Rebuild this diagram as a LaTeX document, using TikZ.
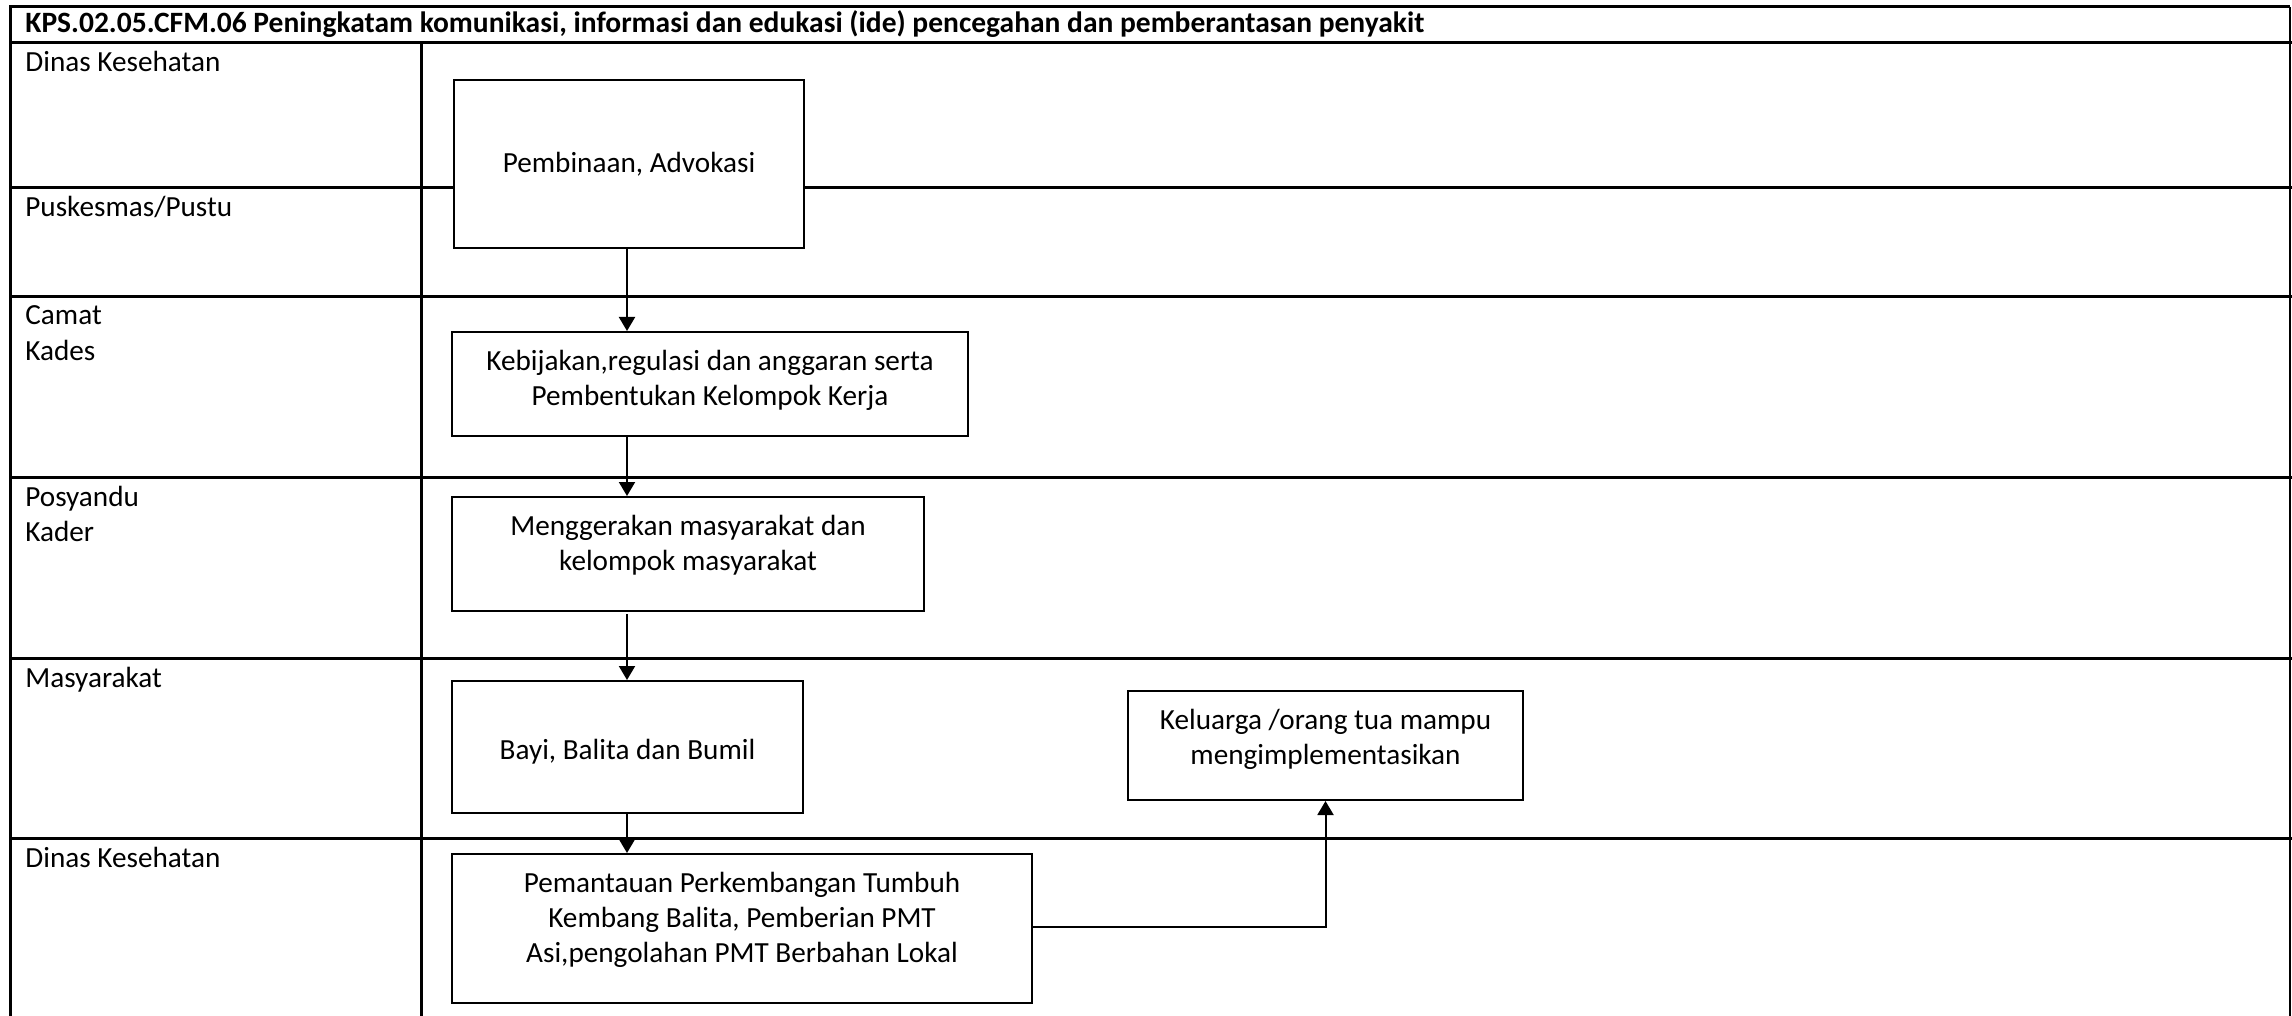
\documentclass[tikz,border=0pt]{standalone}
\usepackage{fontspec}
\setmainfont{Carlito}
\usetikzlibrary{arrows.meta,calc}
\tikzset{
  lane/.style={line width=1.5pt, line cap=rect},
  frameline/.style={line width=1.5pt},
  box/.style={draw, fill=white, line width=1pt, inner sep=0pt},
  txt/.style={align=center, inner sep=0pt},
  lbl/.style={anchor=base west, inner sep=0pt},
  flow/.style={line width=1pt, -{Triangle[width=8pt, length=7pt]}},
}
\begin{document}
\begin{tikzpicture}[x=0.5pt, y=-0.5pt, font=\fontsize{14.6}{17.5}\selectfont]
\useasboundingbox (0,0) rectangle (2292,1016);
% frame and lanes
\draw[frameline] (10,1016) -- (10,7) -- (2290,7);
\draw[line width=0.9pt] (2290,7) -- (2290,1016);
\draw[lane] (10,43) -- (2290,43);
\foreach \yy in {188,297,477,658,838} \draw[lane] (10,\yy) -- (2290,\yy);
\draw[lane] (421,43) -- (421,1016);
% header
\node[lbl, font=\fontsize{14.75}{17.5}\selectfont\bfseries] (title) at (25,33) {KPS.02.05.CFM.06 Peningkatam komunikasi, informasi dan edukasi (ide) pencegahan dan pemberantasan penyakit};
% lane labels
\node[lbl] (l1) at (25,72) {Dinas Kesehatan};
\node[lbl] (l2) at (25,217) {Puskesmas/Pustu};
\node[lbl] (l3) at (25,325) {Camat};
\node[lbl] (l3b) at (25,360) {Kades};
\node[lbl] (l4) at (25,506) {Posyandu};
\node[lbl] (l4b) at (25,541) {Kader};
\node[lbl] (l5) at (25,687) {Masyarakat};
\node[lbl] (l6) at (25,867) {Dinas Kesehatan};
% boxes
\node[box, minimum width=175pt, minimum height=84pt] (pemb) at (629,164) {};
\node[txt, anchor=base] (pembt) at (629,173) {Pembinaan, Advokasi};
\node[box, minimum width=258pt, minimum height=52pt] (keb) at (710,384) {};
\node[txt] (kebt) at (710,380) {Kebijakan,regulasi dan anggaran serta\\Pembentukan Kelompok Kerja};
\node[box, minimum width=236pt, minimum height=57pt] (gerak) at (688,554) {};
\node[txt] (gerakt) at (688,545.5) {Menggerakan masyarakat dan\\kelompok masyarakat};
\node[box, minimum width=175.5pt, minimum height=66pt] (bayi) at (627.5,747) {};
\node[txt, anchor=base] (bayit) at (627.5,759) {Bayi, Balita dan Bumil};
\node[box, minimum width=197.5pt, minimum height=54.5pt] (kel) at (1325.5,745.5) {};
\node[txt] (kelt) at (1325.5,739) {Keluarga /orang tua mampu\\mengimplementasikan};
\node[box, minimum width=290pt, minimum height=74.5pt] (pem) at (742,928.5) {};
\node[txt] (pemt) at (742,919.5) {Pemantauan Perkembangan Tumbuh\\Kembang Balita, Pemberian PMT\\Asi,pengolahan PMT Berbahan Lokal};
% connectors
\coordinate (ax) at (627,0);
\draw[flow] (pemb.south -| ax) -- (keb.north -| ax);
\draw[flow] (keb.south -| ax) -- (gerak.north -| ax);
\draw[flow] ($(gerak.south -| ax)+(0,2)$) -- (bayi.north -| ax);
\draw[flow] (bayi.south -| ax) -- (pem.north -| ax);
\draw[flow] ($(pem.east)+(0,-2)$) -| (kel.south);
\end{tikzpicture}
\end{document}
